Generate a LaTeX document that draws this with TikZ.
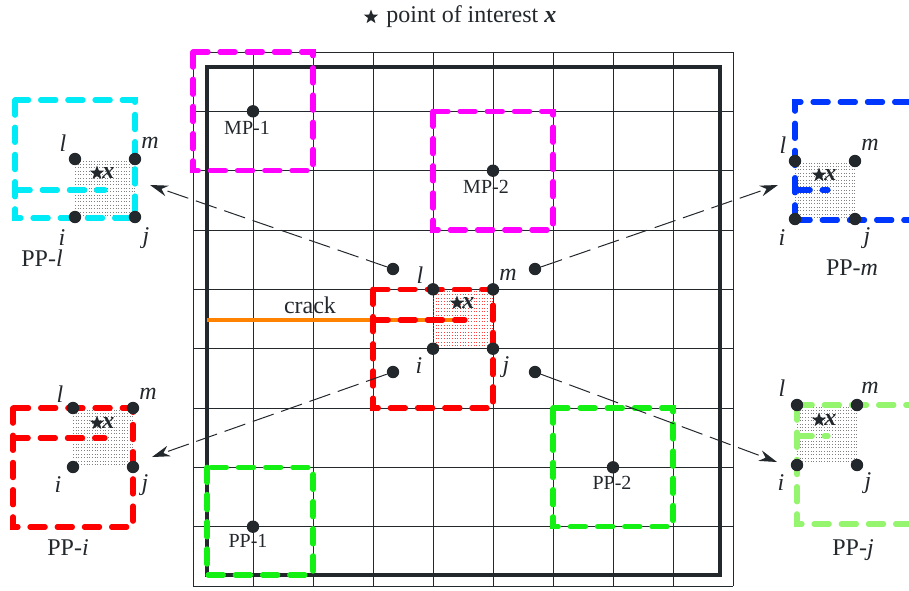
\documentclass[tikz,border=0pt]{standalone}
\usepackage{fontspec}
\setmainfont{Liberation Serif}
\usetikzlibrary{arrows.meta,shapes.geometric}
\definecolor{ink}{RGB}{35,40,45}
\definecolor{cmag}{RGB}{255,0,255}
\definecolor{cred}{RGB}{255,0,0}
\definecolor{cgreen}{RGB}{20,240,20}
\definecolor{ccyan}{RGB}{0,235,245}
\definecolor{cblue}{RGB}{0,55,255}
\definecolor{clight}{RGB}{150,245,110}
\definecolor{corange}{RGB}{255,130,0}
\tikzset{
 dot/.style={circle,fill=ink,inner sep=0pt,minimum size=6.2pt},
 gridline/.style={ink,line width=0.5pt},
 border/.style={ink,line width=2pt},
 zone/.style={line width=2.6pt,line cap=round,dash pattern=on 7.6pt off 6pt},
 lbl/.style={font=\fontsize{12}{14}\selectfont\itshape,text=ink,inner sep=0pt},
 small/.style={font=\fontsize{10}{12}\selectfont,text=ink,inner sep=0pt},
 capt/.style={font=\fontsize{12}{14}\selectfont,text=ink,inner sep=0pt},
 xlbl/.style={font=\fontsize{12}{14}\selectfont\bfseries\itshape,text=ink,inner sep=0pt,anchor=west},
 pointer/.style={ink,line width=0.5pt,dash pattern=on 11pt off 4pt,-{Stealth[length=9pt,width=5.5pt]}},
 staricon/.style={star,star points=5,star point ratio=2.4,fill=ink,inner sep=0pt,minimum size=7.5pt},
 shadeline/.style={line width=0.45pt,dash pattern=on 0.45pt off 0.9pt},
}
\newcommand\shadecell[5]{%
 \foreach \k in {0,...,16} {\draw[shadeline,#5] (#1,{#2+2+3.4*\k}) -- (#3,{#2+2+3.4*\k});}}
\begin{document}
\begin{tikzpicture}[x=0.5pt,y=-0.5pt]
\useasboundingbox (0,0) rectangle (909,590);
% legend
\node[staricon] (legstar) at (371,17) {};
\node[capt,anchor=west] (legtext) at (386,17) {point of interest \textbf{\textit{x}}};
% grid
\foreach \k in {0,...,9} {
  \draw[gridline] ({193+60*\k},52) -- ({193+60*\k},586);
  \draw[gridline] (193,{52+59.333*\k}) -- (733,{52+59.333*\k});
}
\draw[border] (207,67) rectangle (720,575);
% shaded cell in main
\shadecell{433}{289.3}{493}{347.7}{cred!75}
% crack
\draw[corange,line width=2.4pt] (207,320) -- (465,320);
\node[capt] (cracklbl) at (310,305) {crack};
% zones in main
\draw[zone,cmag] (193,52) rectangle (313,170.7);
\draw[zone,cmag] (433,111.3) rectangle (553,230);
\draw[zone,cgreen] (553,408) rectangle (673,526.7);
\draw[zone,cgreen] (207,467.3) rectangle (313,575);
\draw[zone,cred] (373,289.3) rectangle (493,408);
\draw[zone,cred] (373,320) -- (465,320);
% labelled points
\node[dot] (mp1) at (253,111.3) {};
\node[small] at (247,128) {MP-1};
\node[dot] (mp2) at (493,170.7) {};
\node[small] at (486,187) {MP-2};
\node[dot] (pp1) at (253,526.7) {};
\node[small] at (248,541) {PP-1};
\node[dot] (pp2) at (613,467.3) {};
\node[small] at (612,483) {PP-2};
% main corner points
\node[dot] (l) at (433,289.3) {};
\node[dot] (m) at (493,289.3) {};
\node[dot] (i) at (433,348.7) {};
\node[dot] (j) at (493,348.7) {};
\node[lbl] at (420,275) {l};
\node[lbl] at (508,275) {m};
\node[lbl] at (419,366) {i};
\node[lbl] at (506,367) {j};
\node[staricon] (sx) at (457,303) {};
\node[xlbl] at (462,303) {x};
% arrow start points
\node[dot] (al) at (393,269) {};
\node[dot] (am) at (535,269) {};
\node[dot] (ai) at (393,372) {};
\node[dot] (aj) at (535,372) {};
\coordinate (tl) at (150,185);
\coordinate (tm) at (778,185);
\coordinate (ti) at (152,457);
\coordinate (tj) at (777,462);
\draw[pointer] (al) -- (tl);
\draw[pointer] (am) -- (tm);
\draw[pointer] (ai) -- (ti);
\draw[pointer] (aj) -- (tj);
% ---------- panel PP-l
\shadecell{75}{159}{135}{217}{gray}
\draw[zone,ccyan] (15,100) rectangle (135,218);
\draw[zone,ccyan] (15,190) -- (105,190);
\node[dot] (Ll) at (75,159) {};
\node[dot] (Lm) at (135,159) {};
\node[dot] (Li) at (75,217) {};
\node[dot] (Lj) at (135,217) {};
\node[staricon] at (97,173) {};
\node[xlbl] at (102,173) {x};
\node[lbl] at (63,143) {l};
\node[lbl] at (150,143) {m};
\node[lbl] at (62,238) {i};
\node[lbl] at (146,238) {j};
\node[capt] at (42,258) {PP-\textit{l}};
% ---------- panel PP-m
\shadecell{795}{161}{855}{219}{gray}
\draw[zone,cblue] (795,220) -- (795,102) -- (925,102);
\draw[zone,cblue] (795,220) -- (925,220);
\draw[zone,cblue] (795,190) -- (828,190);
\node[dot] (Ml) at (795,161) {};
\node[dot] (Mm) at (855,161) {};
\node[dot] (Mi) at (795,219) {};
\node[dot] (Mj) at (855,219) {};
\node[staricon] at (819,175) {};
\node[xlbl] at (824,175) {x};
\node[lbl] at (783,145) {l};
\node[lbl] at (870,145) {m};
\node[lbl] at (782,238) {i};
\node[lbl] at (867,238) {j};
\node[capt] at (852,268) {PP-\textit{m}};
% ---------- panel PP-i
\shadecell{73}{408}{133}{466}{gray}
\draw[zone,cred] (13,408) rectangle (133,527);
\draw[zone,cred] (13,438) -- (105,438);
\node[dot] (Il) at (73,408) {};
\node[dot] (Im) at (133,408) {};
\node[dot] (Ii) at (73,467) {};
\node[dot] (Ij) at (133,467) {};
\node[staricon] at (97,423) {};
\node[xlbl] at (102,423) {x};
\node[lbl] at (60,394) {l};
\node[lbl] at (148,394) {m};
\node[lbl] at (58,485) {i};
\node[lbl] at (145,485) {j};
\node[capt] at (68,548) {PP-\textit{i}};
% ---------- panel PP-j
\shadecell{797}{405}{857}{463}{gray}
\draw[zone,clight] (797,405) -- (925,405);
\draw[zone,clight] (797,405) -- (797,524) -- (925,524);
\draw[zone,clight] (797,436) -- (828,436);
\node[dot] (Jl) at (797,405) {};
\node[dot] (Jm) at (857,405) {};
\node[dot] (Ji) at (797,465) {};
\node[dot] (Jj) at (857,465) {};
\node[staricon] at (819,420) {};
\node[xlbl] at (824,420) {x};
\node[lbl] at (782,388) {l};
\node[lbl] at (870,388) {m};
\node[lbl] at (781,483) {i};
\node[lbl] at (868,483) {j};
\node[capt] at (853,550) {PP-\textit{j}};
\end{tikzpicture}
\end{document}
